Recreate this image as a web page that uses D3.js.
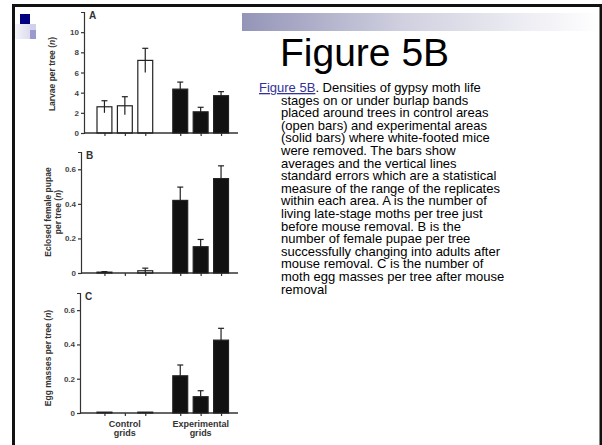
<!DOCTYPE html>
<html>
<head>
<meta charset="utf-8">
<script src="https://cdn.jsdelivr.net/npm/d3@7"></script>
<style>
  body { margin: 0; background: #fff; }
  svg { display: block; font-family: Arial, "Liberation Sans", sans-serif; }
  .panel text { font-weight: bold; fill: #333; }
  .tick text { font-size: 8px; fill: #444; font-weight: bold; }
  .tick line, .domain { stroke: #333; stroke-width: 1.2; }
</style>
</head>
<body>
<script>
// Bars: three control grids (open) and three experimental grids (solid)
const categories = ["Control 1", "Control 2", "Control 3", "Experimental 1", "Experimental 2", "Experimental 3"];
const groupOf = ["Control grids", "Control grids", "Control grids", "Experimental grids", "Experimental grids", "Experimental grids"];
const replicate = ["1", "2", "3", "1", "2", "3"];
const groups = ["Control grids", "Experimental grids"];

// A: larvae per tree
const larvae = [2.6, 2.7, 7.2, 4.35, 2.1, 3.7];
const larvaeSE = [0.6, 0.9, 1.2, 0.7, 0.45, 0.4];
// B: eclosed female pupae per tree
const pupae = [0.005, 0, 0.013, 0.42, 0.152, 0.546];
const pupaeSE = [0.003, 0, 0.015, 0.077, 0.042, 0.074];
// C: egg masses per tree
const eggs = [0.005, 0, 0.005, 0.217, 0.095, 0.425];
const eggsSE = [0, 0, 0, 0.063, 0.035, 0.069];

const ticksA = [0, 2, 4, 6, 8, 10];
const ticksBC = [0, 0.2, 0.4, 0.6];

const captionLines = [
  "stages on or under burlap bands",
  "placed around trees in control areas",
  "(open bars) and experimental areas",
  "(solid bars) where white-footed mice",
  "were removed. The bars show",
  "averages and the vertical lines",
  "standard errors which are a statistical",
  "measure of the range of the replicates",
  "within each area. A is the number of",
  "living late-stage moths per tree just",
  "before mouse removal. B is the",
  "number of female pupae per tree",
  "successfully changing into adults after",
  "mouse removal. C is the number of",
  "moth egg masses per tree after mouse",
  "removal"
];

const svg = d3.select("body").append("svg")
  .attr("width", 602)
  .attr("height", 445);

// slide decoration
const defs = svg.append("defs");
const grad = defs.append("linearGradient").attr("id", "bar-grad");
grad.append("stop").attr("offset", "0%").attr("stop-color", "#9494b8");
grad.append("stop").attr("offset", "45%").attr("stop-color", "#d0d0e0");
grad.append("stop").attr("offset", "100%").attr("stop-color", "#ffffff");
const grad2 = defs.append("linearGradient").attr("id", "side-grad");
grad2.append("stop").attr("offset", "0%").attr("stop-color", "#f4f4fa");
grad2.append("stop").attr("offset", "100%").attr("stop-color", "#dcdcee");

svg.append("rect").attr("x", 242).attr("y", 13).attr("width", 358).attr("height", 18).attr("fill", "url(#bar-grad)");
svg.append("rect").attr("x", 15).attr("y", 24).attr("width", 15).attr("height", 15).attr("fill", "url(#side-grad)");
svg.append("rect").attr("x", 20).attr("y", 14).attr("width", 10).attr("height", 10).attr("fill", "#000080");
svg.append("rect").attr("x", 30).attr("y", 24).attr("width", 6).attr("height", 6).attr("fill", "#d0d0ea");
svg.append("rect").attr("x", 30).attr("y", 30).attr("width", 6).attr("height", 9).attr("fill", "#9a9acc");

// frame
svg.append("rect").attr("x", 12).attr("y", 4).attr("width", 590).attr("height", 3).attr("fill", "#111");
svg.append("rect").attr("x", 12).attr("y", 4).attr("width", 3).attr("height", 441).attr("fill", "#111");
svg.append("rect").attr("x", 599.5).attr("y", 4).attr("width", 2.5).attr("height", 441).attr("fill", "#111");

// title and caption
svg.append("text")
  .attr("x", 280).attr("y", 66)
  .style("font-size", "39px")
  .text("Figure 5B");

const cap = svg.append("text")
  .attr("x", 259).attr("y", 92)
  .style("font-size", "13px");
cap.append("tspan").attr("fill", "#333399").attr("text-decoration", "underline").text("Figure 5B");
cap.append("tspan").text(". Densities of gypsy moth life");
svg.append("g").selectAll("text")
  .data(captionLines)
  .join("text")
  .attr("x", 281)
  .attr("y", (d, i) => 92 + (i + 1) * 12.6)
  .style("font-size", "13px")
  .text(d => d);

// shared x scales
const outer = d3.scaleBand().domain(groups).range([97, 228.5]).paddingInner(0.265);
const inner = d3.scaleBand().domain(["1", "2", "3"]).range([0, outer.bandwidth()]).paddingInner(0.27);
const xc = d3.scaleOrdinal()
  .domain(categories)
  .range(categories.map((c, i) => outer(groupOf[i]) + inner(replicate[i]) + inner.bandwidth() / 2));

function drawPanel(opt) {
  const g = svg.append("g").attr("class", "panel");
  const y = d3.scaleLinear().domain(opt.domain).range(opt.range);
  const data = categories.map((c, i) => ({ c: c, v: opt.values[i], e: opt.errors[i], open: i < 3 }));

  // y axis
  g.append("g")
    .attr("transform", `translate(${opt.axisX},0)`)
    .call(d3.axisLeft(y).tickValues(opt.ticks).tickSize(3).tickSizeOuter(3).tickPadding(2)
      .tickFormat(d => d === 0 ? "0" : d3.format("~g")(d)));

  // baseline with ticks under bars
  g.append("line")
    .attr("x1", opt.axisX).attr("x2", 238)
    .attr("y1", y(0)).attr("y2", y(0))
    .attr("stroke", "#333").attr("stroke-width", 1.4);
  const xa = g.append("g")
    .attr("transform", `translate(0,${y(0)})`)
    .call(d3.axisBottom(xc).tickSize(3).tickFormat(""));
  xa.select(".domain").remove();

  // error bars
  const eb = g.append("g").selectAll("g").data(data.filter(d => d.e > 0)).join("g");
  eb.append("line")
    .attr("x1", d => xc(d.c)).attr("x2", d => xc(d.c))
    .attr("y1", d => y(Math.max(0, d.v - d.e))).attr("y2", d => y(d.v + d.e))
    .attr("stroke", "#222").attr("stroke-width", 1.2);
  eb.append("line")
    .attr("x1", d => xc(d.c) - 3).attr("x2", d => xc(d.c) + 3)
    .attr("y1", d => y(d.v + d.e)).attr("y2", d => y(d.v + d.e))
    .attr("stroke", "#222").attr("stroke-width", 1.2);

  // bars
  g.append("g").selectAll("rect")
    .data(data.filter(d => d.v > 0))
    .join("rect")
    .attr("x", d => xc(d.c) - inner.bandwidth() / 2)
    .attr("width", inner.bandwidth())
    .attr("y", d => y(d.v))
    .attr("height", d => y(0) - y(d.v))
    .attr("fill", d => d.open ? "none" : "#111")
    .attr("stroke", "#222")
    .attr("stroke-width", 1.2);

  // panel letter
  g.append("text")
    .attr("x", opt.axisX + 5).attr("y", opt.range[1] + 7)
    .style("font-size", "10px")
    .text(opt.letter);

  // y title
  opt.title.forEach((line, k) => {
    const t = g.append("text")
      .attr("transform", `translate(${opt.titleX + k * 10},${opt.titleY}) rotate(-90)`)
      .attr("text-anchor", "middle")
      .style("font-size", "8.5px");
    const parts = line.split("(n)");
    t.append("tspan").text(parts[0]);
    if (parts.length > 1) {
      t.append("tspan").text("(");
      t.append("tspan").style("font-style", "italic").text("n");
      t.append("tspan").text(")");
    }
  });
  return y;
}

drawPanel({ letter: "A", values: larvae, errors: larvaeSE, domain: [0, 12], range: [133, 12],
  ticks: ticksA, axisX: 84, title: ["Larvae per tree (n)"], titleX: 55, titleY: 74 });
drawPanel({ letter: "B", values: pupae, errors: pupaeSE, domain: [0, 0.7], range: [273, 152],
  ticks: ticksBC, axisX: 81, title: ["Eclosed female pupae", "per tree (n)"], titleX: 51, titleY: 212 });
const yC = drawPanel({ letter: "C", values: eggs, errors: eggsSE, domain: [0, 0.7], range: [413, 293],
  ticks: ticksBC, axisX: 80, title: ["Egg masses per tree (n)"], titleX: 51, titleY: 358 });

// group labels under panel C
const gl = svg.append("g").attr("class", "panel").selectAll("text")
  .data(groups)
  .join("text")
  .attr("text-anchor", "middle")
  .style("font-size", "9px");
gl.append("tspan")
  .attr("x", d => outer(d) + outer.bandwidth() / 2)
  .attr("y", yC(0) + 14)
  .text(d => d.split(" ")[0]);
gl.append("tspan")
  .attr("x", d => outer(d) + outer.bandwidth() / 2)
  .attr("y", yC(0) + 23)
  .text(d => d.split(" ")[1]);
</script>
</body>
</html>
